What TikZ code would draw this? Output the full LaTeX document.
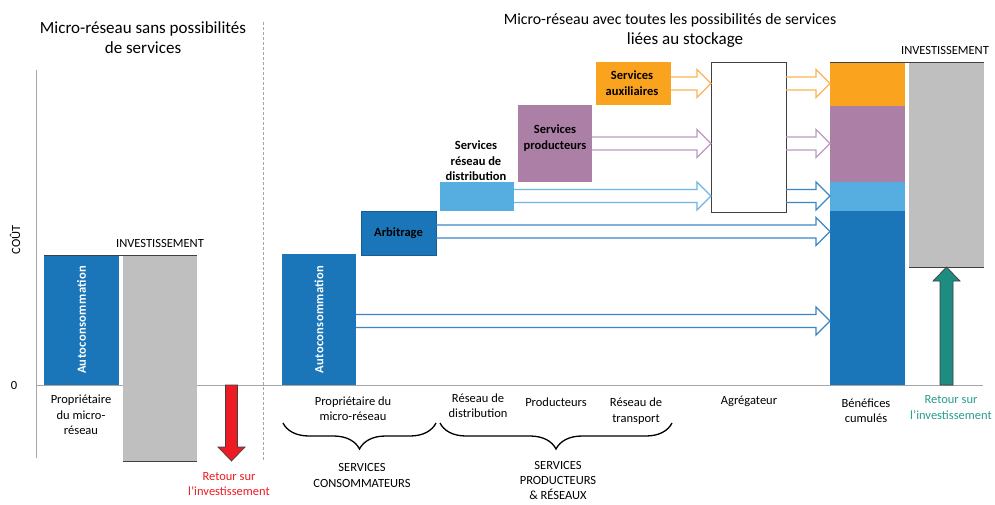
\documentclass[tikz,border=0pt]{standalone}
\usepackage{fontspec}
\setmainfont{Carlito}
\usetikzlibrary{calc,decorations.pathreplacing}
\definecolor{cblue}{HTML}{1A76B9}
\definecolor{clblue}{HTML}{55ADE0}
\definecolor{cpurple}{HTML}{AC7FA6}
\definecolor{corange}{HTML}{F9A31F}
\definecolor{cgray}{HTML}{BFBFBF}
\definecolor{ared}{HTML}{ED1C24}
\definecolor{cteal}{HTML}{1E8C80}
\definecolor{aorange}{HTML}{FBB454}
\definecolor{apurple}{HTML}{BE9AC2}
\definecolor{alblue}{HTML}{6DB6E6}
\definecolor{ablue}{HTML}{3D86C6}
\definecolor{axisgray}{HTML}{A6A6A6}
\definecolor{edge}{HTML}{404040}
\definecolor{tealtxt}{HTML}{2A9D8F}
\newcommand\hollowarr[4]{%
 \draw[#1, harrowline] let \p1=(#2.east), \p2=(#3.west), \p3=(0,#4) in
 (\x1,\y3+6.5pt) -- (\x2-14pt,\y3+6.5pt) -- (\x2-14pt,\y3+14pt) -- (\x2,\y3)
 -- (\x2-14pt,\y3-14pt) -- (\x2-14pt,\y3-6.5pt) -- (\x1,\y3-6.5pt);}
\begin{document}
\begin{tikzpicture}[x=1pt,y=-1pt,
 bar/.style={anchor=north west, inner sep=0pt, outer sep=0pt, minimum width=75pt},
 lbl/.style={font=\fontsize{12.5}{15.5}\selectfont, align=center, inner sep=0pt},
 blbl/.style={font=\fontsize{12.5}{15.5}\selectfont\bfseries, align=center, inner sep=0pt},
 ttl/.style={font=\fontsize{17}{20}\selectfont, align=center, inner sep=0pt},
 vlbl/.style={font=\fontsize{12.5}{14}\selectfont\bfseries\addfontfeatures{LetterSpace=3}, text=white, rotate=90, inner sep=0pt},
 harrowline/.style={line width=1.1pt, line join=miter},
 brc/.style={decorate, decoration={brace, mirror, amplitude=26pt}, line width=1.3pt},
 edgeline/.style={draw=edge, line width=1pt}
]
\useasboundingbox[fill=white] (0,0) rectangle (995,504);

% axes
\draw[axisgray, line width=1pt] (36,70) -- (36,458);
\draw[axisgray, line width=1pt] (36,385) -- (983,385);
\draw[axisgray, line width=0.6pt, dash pattern=on 3pt off 2pt] (263,22) -- (263,460);
\node[lbl, rotate=90] (cout) at (15,240) {COÛT};
\node[lbl] (zero) at (14,385) {0};

% titles
\node[ttl] (t1) at (143,38) {Micro-réseau sans possibilités\\de services};
\node[ttl, font=\fontsize{15.8}{20}\selectfont] (t2a) at (670,20) {Micro-réseau avec toutes les possibilités de services};
\node[ttl] (t2b) at (685,40) {liées au stockage};

% left panel
\node[bar, fill=cblue, minimum height=130pt] (lauto) at (44,255) {};
\node[vlbl] at (lauto.center) {Autoconsommation};
\node[bar, fill=cgray, minimum width=74pt, minimum height=206pt] (linv) at (123,255) {};
\draw[edgeline] (lauto.north west) -- (linv.north east);
\draw[edgeline] (linv.south west) -- (linv.south east);
\node[lbl] (linvt) at (160,243) {INVESTISSEMENT};
\node[lbl] (lprop) at (81,415) {Propriétaire\\du micro-\\réseau};
\draw[fill=ared, draw=edge, line width=0.7pt] (225.5,385) -- (225.5,447) -- (218,447) -- (231.5,461) -- (245,447) -- (237.5,447) -- (237.5,385) -- cycle;
\node[lbl, text=ared] (lret) at (229,484) {Retour sur\\l’investissement};

% right panel bars
\node[bar, fill=cblue, minimum width=74pt, minimum height=131pt] (rauto) at (282,254) {};
\node[vlbl] at (rauto.center) {Autoconsommation};
\node[bar, fill=cblue, minimum height=44pt, draw=cblue!80!black, line width=0.4pt] (arb) at (361,211) {};
\node[blbl] at (arb.center) {Arbitrage};
\node[bar, fill=clblue, minimum width=74pt, minimum height=29pt] (lblue) at (440,182) {};
\node[blbl] (lbluet) at (476,161) {Services\\réseau de\\distribution};
\node[bar, fill=cpurple, minimum width=74pt, minimum height=77pt] (purp) at (518,105) {};
\node[blbl] at (555,138) {Services\\producteurs};
\node[bar, fill=corange, minimum height=43pt] (orng) at (596,62) {};
\node[blbl] at (632,83) {Services\\auxiliaires};

% aggregator
\node[bar, draw=edge, line width=1pt, fill=white, minimum height=150pt] (agg) at (711,62) {};

% cumulated benefits
\node[bar, fill=corange, minimum height=44pt] (cumO) at (830,62) {};
\node[bar, fill=cpurple, minimum height=76pt] (cumP) at (830,106) {};
\node[bar, fill=clblue, minimum height=29pt] (cumL) at (830,182) {};
\node[bar, fill=cblue, minimum height=174pt] (cumB) at (830,211) {};
\node[bar, fill=cgray, minimum height=205pt] (rinv) at (909,62) {};
\draw[edgeline] (cumO.north west) -- (rinv.north east);
\draw[edgeline] (rinv.south west) -- (rinv.south east);
\node[lbl] (rinvt) at (945,50) {INVESTISSEMENT};
\draw[fill=cteal, draw=edge, line width=0.7pt] (940,385) -- (940,281) -- (933,281) -- (946.5,267) -- (960,281) -- (953,281) -- (953,385) -- cycle;
\node[lbl, text=tealtxt] (rret) at (951,407.5) {Retour sur\\l’investissement};

% hollow arrows
\hollowarr{aorange}{orng}{agg}{83.5}
\hollowarr{apurple}{purp}{agg}{143.5}
\hollowarr{alblue}{lblue}{agg}{196}
\hollowarr{aorange}{agg}{cumO}{83.5}
\hollowarr{apurple}{agg}{cumP}{143.5}
\hollowarr{ablue}{agg}{cumL}{196}
\hollowarr{ablue}{arb}{cumB}{231.5}
\hollowarr{ablue}{rauto}{cumB}{321}

% bottom labels
\node[lbl] (bprop) at (353,408.5) {Propriétaire du\\micro-réseau};
\node[lbl] (bdist) at (478,405.5) {Réseau de\\distribution};
\node[lbl] (bprod) at (556,402) {Producteurs};
\node[lbl] (btrans) at (636,411) {Réseau de\\transport};
\node[lbl] (bagg) at (749,401) {Agrégateur};
\node[lbl] (bcum) at (866,410.5) {Bénéfices\\cumulés};

% braces
\coordinate (b1a) at (283,423);
\coordinate (b1b) at (436,423);
\coordinate (b2a) at (440,423);
\coordinate (b2b) at (672,423);
\draw[brc] (b1a) -- (b1b);
\draw[brc] (b2a) -- (b2b);
\node[lbl] (scons) at (362,475.5) {SERVICES\\CONSOMMATEURS};
\node[lbl, font=\fontsize{12.5}{15}\selectfont] (sprod) at (558,480) {SERVICES\\PRODUCTEURS\\\& RÉSEAUX};
\end{tikzpicture}
\end{document}
